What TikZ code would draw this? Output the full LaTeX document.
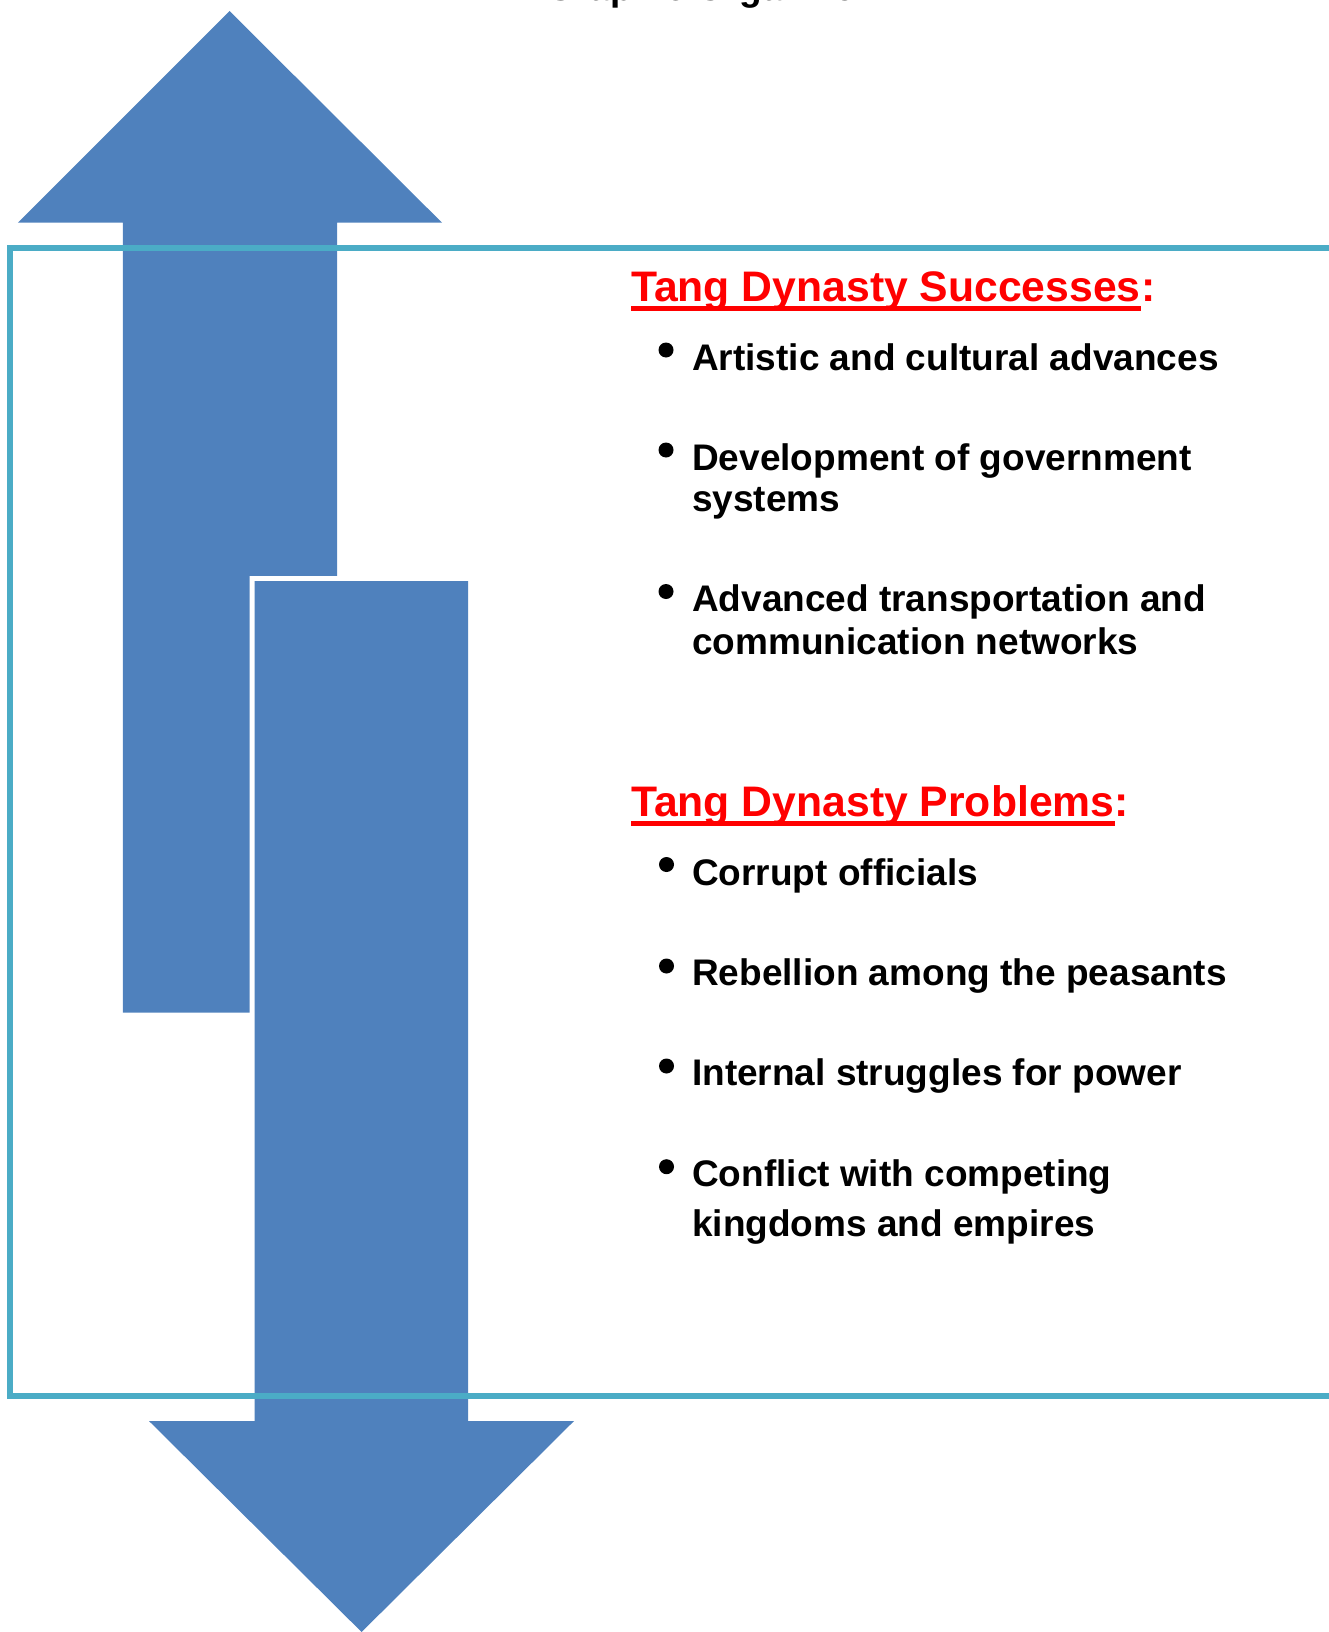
\documentclass[tikz,border=0pt]{standalone}
\usepackage{fontspec}
\setmainfont{Liberation Sans}
\definecolor{arrowblue}{HTML}{4F81BD}
\definecolor{frameteal}{HTML}{4BACC6}
\definecolor{headred}{HTML}{FF0000}
\begin{document}
\begin{tikzpicture}[x=1pt,y=-1pt,
  arrowshape/.style={fill=arrowblue},
  arrowhalo/.style={fill=white,draw=white,line width=10pt,line join=miter},
  framebox/.style={draw=frameteal,line width=6pt,line join=miter},
  heading/.style={inner sep=0pt,anchor=base west,text=headred,font=\bfseries\fontsize{42.7}{50}\selectfont},
  item/.style={inner sep=0pt,anchor=base west,font=\bfseries\fontsize{37}{42}\selectfont},
  dot/.style={circle,fill=black,inner sep=0pt,minimum size=15pt},
  uline/.style={draw=headred,line width=5pt},
  ]
\useasboundingbox (0,0) rectangle (1328,1632);
% title (mostly outside the page)
\node[inner sep=0pt,anchor=base west,font=\bfseries\fontsize{37}{44}\selectfont] (title) at (546.5,0.9) {Graphic Organizer};
% up arrow
\path[arrowshape] (229.5,11) -- (442,222.7) -- (337,222.7) -- (337,1012.7) -- (122.8,1012.7) -- (122.8,222.7) -- (17.8,222.7) -- cycle;
% down arrow with white halo
\path[arrowhalo] (254.5,581) -- (468,581) -- (468,1421) -- (574,1421) -- (361.6,1632) -- (149,1421) -- (254.5,1421) -- cycle;
\path[arrowshape] (254.5,581) -- (468,581) -- (468,1421) -- (574,1421) -- (361.6,1632) -- (149,1421) -- (254.5,1421) -- cycle;
% frame
\draw[framebox] (1345,248) -- (10,248) -- (10,1396) -- (1345,1396);
% successes
\node[heading] (sh) at (631,301.7) {Tang Dynasty Successes};
\node[heading] (shc) at (sh.base east) {:};
\draw[uline] ([yshift=-6.3pt]sh.base west) -- ([yshift=-6.3pt]sh.base east);
\node[dot] (d1) at (666,350) {};
\node[item] (s1) at (692,370) {Artistic and cultural advances};
\node[dot] (d2) at (666,450) {};
\node[item] (s2a) at (692,470) {Development of government};
\node[item] (s2b) at (692,511.7) {systems};
\node[dot] (d3) at (666,591.5) {};
\node[item] (s3a) at (692,611) {Advanced transportation and};
\node[item] (s3b) at (692,654.3) {communication networks};
% problems
\node[heading] (ph) at (631,816.7) {Tang Dynasty Problems};
\node[heading] (phc) at (ph.base east) {:};
\draw[uline] ([yshift=-6.6pt]ph.base west) -- ([yshift=-6.6pt]ph.base east);
\node[dot] (d4) at (666.5,864.5) {};
\node[item] (p1) at (692,885) {Corrupt officials};
\node[dot] (d5) at (666.5,966) {};
\node[item] (p2) at (692,985) {Rebellion among the peasants};
\node[dot] (d6) at (666.5,1066) {};
\node[item] (p3) at (692,1085.7) {Internal struggles for power};
\node[dot] (d7) at (666.5,1166.7) {};
\node[item] (p4a) at (692,1186.7) {Conflict with competing};
\node[item] (p4b) at (692,1236.7) {kingdoms and empires};
\end{tikzpicture}
\end{document}
